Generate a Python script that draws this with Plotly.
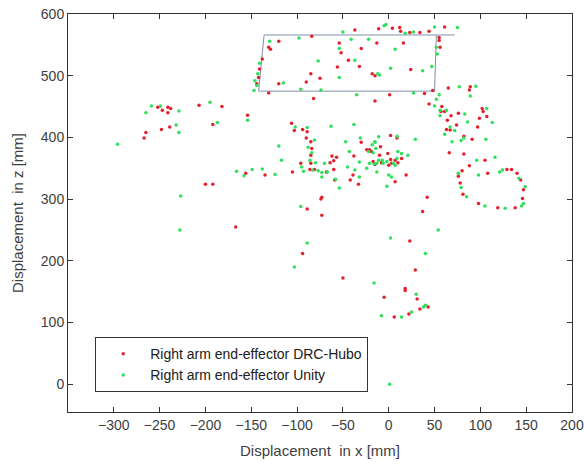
import plotly.graph_objects as go

# Right arm end-effector DRC-Hubo (red)
hubo_x = [-252, -247, -241, -238, -241, -207, -182, -192, -154, -239, -248, -265, -267, -156, -135, -200, -192, -167,
          -120, -84, -131, -129, -37, -54, -52, -44, -56, -32, -138, -141, -142, -144, -120, -85, -75, -90, -131, -82,
          -11, 4, 12, 13, 23, 34, 44, 61, 55, 55, 56, -13, -30, 16, -18, -15, 24, 48, 39, 1, -15, 65, 89,
          88, 44, 58, 57, 61, 68, 76, 102, 103, 107, 99, 64, 74, 63, 67, 97, 91, 82, 66, 82, 105, 88, 80, 108, 76,
          129, 134, 140, 144, 78, 81, 147, 146, 98, 119, 138, 42, 37,
          -106, -103, -94, -89, -90, -85, -84, -85, -96, -85, -86, -105, -81, -62, -57, -60, -64, -60, -68, -59,
          -42, -39, -33, -38, -30, -24, -74, -73, -89, -19, -73,
          2, 9, -9, -21, -10, -1, -17, -15, -8, 2, 3, 10, 7, 0, 14, 19, 7,
          23, -94, -50, 29, 18, 18, -5, 31, 6, 22, 34, 43]
hubo_z = [449, 444, 449, 447, 440, 452, 450, 421, 436, 417, 413, 408, 399, 342, 339, 324, 324, 255,
          556, 564, 546, 543, 574, 553, 537, 525, 514, 515, 527, 511, 497, 487, 487, 503, 496, 490, 472, 463,
          576, 577, 578, 572, 570, 570, 572, 579, 562, 557, 546, 553, 544, 553, 503, 500, 510, 476, 471, 469, 459, 480, 482,
          477, 454, 450, 442, 442, 435, 439, 447, 442, 434, 431, 428, 420, 413, 412, 417, 397, 402, 375, 373, 363, 354, 346, 342, 337,
          348, 348, 342, 331, 326, 308, 315, 301, 293, 286, 286, 303, 280,
          423, 411, 413, 409, 399, 393, 382, 371, 358, 358, 348, 344, 348, 370, 368, 362, 359, 348, 344, 331,
          331, 339, 324, 370, 392, 380, 300, 303, 284, 377, 274,
          403, 399, 385, 380, 371, 374, 361, 356, 359, 364, 358, 359, 363, 355, 366, 339, 328,
          232, 212, 172, 185, 155, 152, 141, 138, 109, 114, 122, 125]

# Right arm end-effector Unity (green)
unity_x = [-259, -265, -249, -229, -195, -187, -232, -229, -296, -154, -166, -138, -227, -228, -158, -149,
           -130, -98, -50, -41, -54, -37, -77, -141, -143, -146, -144, -147, -115, -96, -74, -54, -35,
           -5, -3, 18, 27, 50, 75, -22, 7, -10, -12, 2, 37, 47, 53, 52, 27, 55, 77, 52,
           95, 89, 50, 56, 63, 56, 83, 86, 107, 113, 67, 72, 61, 69, 79, 82, 106, 96, 116, 76, 98, 121, 124,
           79, 85, 149, 147, 105, 127, 145, 142, 54,
           -102, -89, -63, -38, -81, -120, -117, -124, -88, -84, -86, -80, -70, -95, -93, -83, -77, -73, -67, -73,
           -58, -54, -47, -43, -45, -32, -37, -32, -31, -22, -18, -15, -13, -24, -96,
           -11, -15, -14, -17, -11, -16, -21, -13, -7, -2, 5, 9, 10, 14, 7, 21, 29, 0, 3, -2, -6, 9,
           -89, -103, 2, 40, -16, 30, -8, 14, 25, 38, 40, 1]
unity_z = [451, 440, 451, 443, 457, 424, 420, 408, 389, 428, 345, 349, 305, 250, 338, 348,
           556, 561, 571, 559, 544, 525, 524, 520, 503, 492, 484, 476, 488, 478, 477, 497, 469,
           581, 583, 569, 571, 579, 578, 559, 543, 501, 503, 512, 508, 515, 535, 546, 472, 469, 482, 462,
           483, 467, 451, 444, 444, 435, 438, 425, 447, 424, 417, 411, 405, 393, 395, 399, 397, 363, 368, 342, 339, 344, 347,
           319, 304, 320, 293, 289, 285, 289, 334, 250,
           417, 416, 418, 421, 396, 386, 363, 340, 384, 375, 363, 359, 358, 352, 345, 347, 346, 343, 344, 336,
           332, 318, 393, 377, 352, 360, 347, 336, 399, 377, 388, 393, 358, 350, 288,
           401, 392, 382, 375, 363, 357, 358, 344, 363, 361, 358, 366, 377, 374, 355, 371, 397, 339, 336, 321, 358, 402,
           229, 190, 237, 212, 164, 146, 111, 109, 117, 125, 128, 0]

# Workspace outline (polyline through its corners)
box_x = [72, -136, -142, 50, 52]
box_z = [566, 566, 475, 475, 566]

x_ticks = [-300, -250, -200, -150, -100, -50, 0, 50, 100, 150, 200]
z_ticks = [0, 100, 200, 300, 400, 500, 600]

FONT = "Liberation Sans, Arial"

fig = go.Figure()
fig.add_trace(go.Scatter(x=box_x, y=box_z, mode="lines", line=dict(color="#8090a8", width=1),
                         showlegend=False, hoverinfo="skip"))
fig.add_trace(go.Scatter(x=hubo_x, y=hubo_z, mode="markers", name="Right arm end-effector DRC-Hubo",
                         marker=dict(color="#e3202c", size=3.5)))
fig.add_trace(go.Scatter(x=unity_x, y=unity_z, mode="markers", name="Right arm end-effector Unity",
                         marker=dict(color="#2ee05a", size=3.5)))

axis_common = dict(showline=True, linecolor="#333333", linewidth=1, mirror="ticks",
                   ticks="inside", ticklen=5, tickcolor="#333333", showgrid=False, zeroline=False,
                   automargin=False,
                   tickfont=dict(family=FONT, size=14, color="#404040"))

fig.update_layout(
    width=584, height=464,
    margin=dict(l=68, r=12, t=14, b=52),
    paper_bgcolor="white", plot_bgcolor="white",
    xaxis=dict(range=[-350, 200], tickvals=x_ticks,
               title=dict(text="Displacement  in x [mm]", standoff=13,
                          font=dict(family=FONT, size=15, color="#404040")),
               **axis_common),
    yaxis=dict(range=[-45, 600], tickvals=z_ticks,
               title=dict(text="Displacement  in z [mm]", standoff=13,
                          font=dict(family=FONT, size=15, color="#404040")),
               **axis_common),
    legend=dict(x=0.054, y=0.188, xanchor="left", yanchor="top",
                bgcolor="white", bordercolor="#333333", borderwidth=1,
                font=dict(family=FONT, size=14, color="#202020"),
                tracegroupgap=0, itemwidth=44),
)

# remove the browser's default body margin so the figure fills the window exactly
fig.write_html("out.html", config={"displayModeBar": False},
               post_script="document.body.style.margin='0';document.body.style.overflow='hidden';")
